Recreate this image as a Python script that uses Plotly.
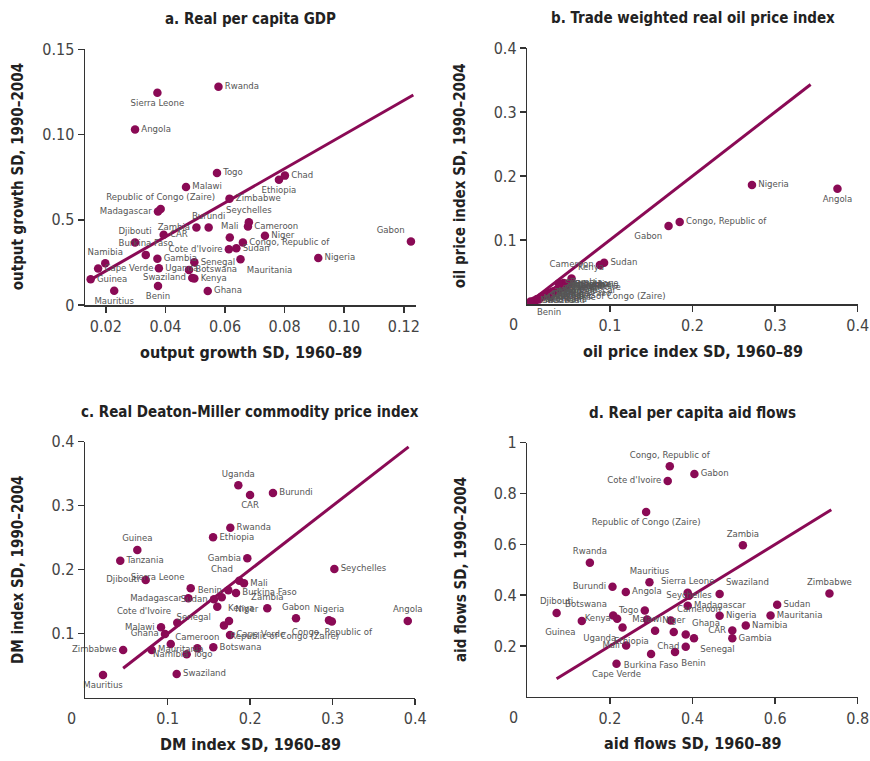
import plotly.graph_objects as go

# ---------------- data ----------------
# a. Real per capita GDP
a_country = ["Rwanda", "Sierra Leone", "Angola", "Togo", "Malawi", "Zimbabwe",
             "Republic of Congo (Zaire)", "Madagascar", "Zambia", "Burundi", "CAR",
             "Djibouti", "Burkina Faso", "Namibia", "Cape Verde", "Guinea", "Mauritius",
             "Gambia", "Uganda", "Benin", "Senegal", "Botswana", "Kenya", "Swaziland",
             "Ghana", "Mali", "Cote d'Ivoire", "Sudan", "Mauritania", "Seychelles",
             "Cameroon", "Congo, Republic of", "Chad", "Ethiopia", "Niger", "Nigeria", "Gabon"]
a_x = [0.0578, 0.0373, 0.0298, 0.0573, 0.0469, 0.0615, 0.0384, 0.0375, 0.0504, 0.0545, 0.0394,
       0.0298, 0.0334, 0.0198, 0.0174, 0.0149, 0.0228, 0.0373, 0.0378, 0.0375, 0.0497, 0.0479,
       0.0497, 0.0490, 0.0542, 0.0616, 0.0613, 0.0638, 0.0652, 0.0680, 0.0677, 0.0660, 0.0801,
       0.0781, 0.0734, 0.0913, 0.1224]
a_y = [0.1280, 0.1245, 0.1030, 0.0775, 0.0692, 0.0624, 0.0563, 0.0549, 0.0455, 0.0455, 0.0412,
       0.0367, 0.0294, 0.0245, 0.0214, 0.0151, 0.0084, 0.0271, 0.0216, 0.0112, 0.0251, 0.0206,
       0.0155, 0.0158, 0.0082, 0.0396, 0.0327, 0.0333, 0.0269, 0.0486, 0.0461, 0.0367, 0.0759,
       0.0735, 0.0406, 0.0276, 0.0373]
a_diag = [0.0149, 0.1232]
a_xticks = [0.02, 0.04, 0.06, 0.08, 0.10, 0.12]
a_xticklabels = ["0.02", "0.04", "0.06", "0.08", "0.10", "0.12"]
a_yticks = [0, 0.05, 0.10, 0.15]
a_yticklabels = ["0", "0.5", "0.10", "0.15"]

# b. Trade weighted real oil price index
b_country = ["Nigeria", "Angola", "Congo, Republic of", "Gabon", "Sudan", "Cameroon", "Kenya",
             "Benin", "Mauritius", "Swaziland", "Namibia", "Botswana", "Republic of Congo (Zaire)",
             "Cape Verde", "Gambia", "Seychelles", "Djibouti", "Guinea", "Togo", "Burkina Faso",
             "Mali", "Chad", "Niger", "Senegal", "Madagascar", "Ghana", "Cote d'Ivoire", "Malawi",
             "Uganda", "Burundi", "Rwanda", "Mauritania", "Ethiopia", "CAR", "Zambia",
             "Zimbabwe", "Sierra Leone"]
b_x = [0.272, 0.3755, 0.1845, 0.171, 0.093, 0.0879, 0.0536,
       0.004, 0.008, 0.010, 0.012, 0.014, 0.028,
       0.016, 0.018, 0.020, 0.022, 0.024, 0.026, 0.028,
       0.030, 0.032, 0.034, 0.035, 0.037, 0.038, 0.040, 0.042,
       0.043, 0.045, 0.046, 0.048, 0.050, 0.030, 0.044,
       0.040, 0.038]
b_y = [0.186, 0.180, 0.128, 0.122, 0.0645, 0.061, 0.040,
       0.004, 0.005, 0.006, 0.008, 0.007, 0.011,
       0.010, 0.012, 0.013, 0.015, 0.014, 0.017, 0.016,
       0.019, 0.020, 0.020, 0.022, 0.021, 0.024, 0.025, 0.026,
       0.028, 0.027, 0.030, 0.029, 0.031, 0.016, 0.033,
       0.030, 0.032]
b_diag = [0.010, 0.343]
b_ticks = [0.1, 0.2, 0.3, 0.4]
b_ticklabels = ["0.1", "0.2", "0.3", "0.4"]

# c. Real Deaton-Miller commodity price index
c_country = ["Uganda", "CAR", "Burundi", "Rwanda", "Ethiopia", "Guinea", "Tanzania", "Gambia",
             "Djibouti", "Chad", "Mali", "Sierra Leone", "Benin", "Burkina Faso", "Kenya",
             "Madagascar", "Sudan", "Senegal", "Zambia", "Seychelles", "Cote d'Ivoire", "Malawi",
             "Ghana", "Niger", "Republic of Congo (Zaire)", "Cape Verde", "Gabon", "Nigeria",
             "Congo, Republic of", "Angola", "Cameroon", "Zimbabwe", "Mauritania", "Togo",
             "Namibia", "Botswana", "Swaziland", "Mauritius"]
c_x = [0.1856, 0.1998, 0.2276, 0.1759, 0.1550, 0.0632, 0.0425, 0.1965,
       0.0733, 0.1868, 0.1925, 0.1279, 0.1735, 0.1828, 0.1655,
       0.1250, 0.1561, 0.1601, 0.2207, 0.3020, 0.1116, 0.0919,
       0.0967, 0.1743, 0.1682, 0.1755, 0.2555, 0.2955,
       0.2990, 0.3910, 0.1359, 0.0460, 0.0806, 0.1230,
       0.1037, 0.1553, 0.1109, 0.0216]
c_y = [0.3320, 0.3167, 0.3200, 0.2656, 0.2506, 0.2308, 0.2140, 0.2178,
       0.1840, 0.1828, 0.1787, 0.1710, 0.1680, 0.1635, 0.1569,
       0.1553, 0.1537, 0.1422, 0.1397, 0.2010, 0.1170, 0.1100,
       0.0995, 0.1200, 0.1130, 0.0980, 0.1240, 0.1210,
       0.1190, 0.1200, 0.0772, 0.0745, 0.0745, 0.0680,
       0.0839, 0.0787, 0.0370, 0.0355]
c_diag = [0.046, 0.392]
c_ticks = [0.1, 0.2, 0.3, 0.4]
c_ticklabels = ["0.1", "0.2", "0.3", "0.4"]

# d. Real per capita aid flows
d_country = ["Congo, Republic of", "Gabon", "Cote d'Ivoire", "Republic of Congo (Zaire)", "Rwanda",
             "Mauritius", "Burundi", "Angola", "Sierra Leone", "Swaziland", "Seychelles",
             "Madagascar", "Nigeria", "Djibouti", "Guinea", "Botswana", "Kenya", "Togo", "Malawi",
             "Cameroon", "Uganda", "Ethiopia", "Niger", "Ghana", "Senegal", "Chad", "Mali",
             "Benin", "Burkina Faso", "Cape Verde", "CAR", "Gambia", "Zambia", "Zimbabwe",
             "Sudan", "Mauritania", "Namibia"]
d_x = [0.345, 0.4046, 0.340, 0.2877, 0.1515,
       0.2958, 0.2063, 0.2385, 0.3884, 0.4657, 0.3916,
       0.3884, 0.4657, 0.0710, 0.1320, 0.2080, 0.2176, 0.2845, 0.2900,
       0.3473, 0.2306, 0.3094, 0.3546, 0.3836, 0.4036, 0.3836, 0.2393,
       0.3577, 0.2997, 0.2160, 0.4964, 0.4964, 0.5220, 0.7316,
       0.6050, 0.5890, 0.5290]
d_y = [0.907, 0.877, 0.849, 0.727, 0.528,
       0.451, 0.433, 0.412, 0.409, 0.405, 0.398,
       0.358, 0.319, 0.330, 0.298, 0.320, 0.307, 0.340, 0.304,
       0.300, 0.273, 0.260, 0.255, 0.2455, 0.230, 0.197, 0.2023,
       0.176, 0.168, 0.130, 0.261, 0.230, 0.596, 0.4067,
       0.362, 0.320, 0.281]
d_diag = [0.071, 0.736]
d_xticks = [0.2, 0.4, 0.6, 0.8]
d_xticklabels = ["0.2", "0.4", "0.6", "0.8"]
d_yticks = [0.2, 0.4, 0.6, 0.8, 1.0]
d_yticklabels = ["0.2", "0.4", "0.6", "0.8", "1"]

# ---------------- label placement (style) ----------------
MR, ML, TC, BC, TL, TR, BL, BR, MC = ("middle right", "middle left", "top center", "bottom center",
                                      "top left", "top right", "bottom left", "bottom right",
                                      "middle center")
a_pos = {"Rwanda": MR, "Sierra Leone": BC, "Angola": MR, "Togo": MR, "Malawi": MR, "Zimbabwe": MR,
         "Republic of Congo (Zaire)": TC, "Madagascar": ML, "Zambia": ML, "Burundi": TC, "CAR": MR,
         "Djibouti": TC, "Burkina Faso": TC, "Namibia": TC, "Cape Verde": MR, "Guinea": MR,
         "Mauritius": BC, "Gambia": MR, "Uganda": MR, "Benin": BC, "Senegal": MR, "Botswana": MR,
         "Kenya": MR, "Swaziland": ML, "Ghana": MR, "Mali": TC, "Cote d'Ivoire": ML, "Sudan": MR,
         "Mauritania": BR, "Seychelles": TC, "Cameroon": MR, "Congo, Republic of": MR, "Chad": MR,
         "Ethiopia": BC, "Niger": MR, "Nigeria": MR, "Gabon": TL}
b_pos = {"Angola": BC, "Gabon": BL, "Cameroon": ML, "Kenya": TR, "Benin": BR}
c_pos = {"Uganda": TC, "CAR": BC, "Burundi": MR, "Rwanda": MR, "Ethiopia": MR, "Guinea": TC,
         "Tanzania": MR, "Gambia": ML, "Djibouti": ML, "Chad": TL, "Mali": MR, "Sierra Leone": TL,
         "Benin": ML, "Burkina Faso": MR, "Kenya": BR, "Madagascar": ML, "Sudan": ML, "Senegal": BL,
         "Zambia": TC, "Seychelles": MR, "Cote d'Ivoire": TL, "Malawi": ML, "Ghana": ML,
         "Niger": TR, "Republic of Congo (Zaire)": BR, "Cape Verde": MR, "Gabon": TC, "Nigeria": TC,
         "Congo, Republic of": BC, "Angola": TC, "Cameroon": TC, "Zimbabwe": ML, "Mauritania": MR,
         "Togo": MR, "Namibia": BC, "Botswana": MR, "Swaziland": MR, "Mauritius": BC}
d_pos = {"Congo, Republic of": TC, "Gabon": MR, "Cote d'Ivoire": ML, "Republic of Congo (Zaire)": BC,
         "Rwanda": TC, "Mauritius": TC, "Burundi": ML, "Angola": MR, "Sierra Leone": TC,
         "Swaziland": TR, "Seychelles": MC, "Madagascar": MR, "Nigeria": MR, "Djibouti": TC,
         "Guinea": BL, "Botswana": TL, "Kenya": ML, "Togo": ML, "Malawi": MC, "Cameroon": TR,
         "Uganda": BL, "Ethiopia": BL, "Niger": TC, "Ghana": TR, "Senegal": BR, "Chad": ML,
         "Mali": ML, "Benin": BR, "Burkina Faso": BC, "Cape Verde": BC, "CAR": ML, "Gambia": MR,
         "Zambia": TC, "Zimbabwe": TC, "Sudan": MR, "Mauritania": MR, "Namibia": MR}

# ---------------- figure ----------------
W, H = 870, 761
FONT = "DejaVu Sans Condensed, Liberation Sans Narrow, Arial Narrow, sans-serif"
PURPLE = "#8a0a55"
TICK_COL = "#444444"
LABEL_COL = "#555555"


def px_x(p):
    return p / W


def px_y(p):
    return 1 - p / H


panels = [
    dict(sfx="", x=a_x, y=a_y, names=a_country, pos=a_pos, diag=a_diag,
         xdom=(85, 416), ydom=(305, 49.3), xr=[0.013, 0.1241], yr=[0, 0.15],
         xt=a_xticks, xtt=a_xticklabels, yt=a_yticks, ytt=a_yticklabels, origin=False,
         title="a. Real per capita GDP", xtitle="output growth SD, 1960–89",
         ytitle="output growth SD, 1990–2004"),
    dict(sfx="2", x=b_x, y=b_y, names=b_country, pos=b_pos, diag=b_diag,
         xdom=(527.3, 857.7), ydom=(304, 48), xr=[0, 0.4], yr=[0, 0.4],
         xt=b_ticks, xtt=b_ticklabels, yt=b_ticks, ytt=b_ticklabels, origin=True,
         title="b. Trade weighted real oil price index", xtitle="oil price index SD, 1960–89",
         ytitle="oil price index SD, 1990–2004"),
    dict(sfx="3", x=c_x, y=c_y, names=c_country, pos=c_pos, diag=c_diag,
         xdom=(85.2, 415.2), ydom=(697.7, 441.7), xr=[0, 0.4], yr=[0, 0.4],
         xt=c_ticks, xtt=c_ticklabels, yt=c_ticks, ytt=c_ticklabels, origin=True,
         title="c. Real Deaton-Miller commodity price index", xtitle="DM index SD, 1960–89",
         ytitle="DM index SD, 1990–2004"),
    dict(sfx="4", x=d_x, y=d_y, names=d_country, pos=d_pos, diag=d_diag,
         xdom=(527.3, 857.7), ydom=(696.8, 442.7), xr=[0, 0.8], yr=[0, 1.0],
         xt=d_xticks, xtt=d_xticklabels, yt=d_yticks, ytt=d_yticklabels, origin=True,
         title="d. Real per capita aid flows", xtitle="aid flows SD, 1960–89",
         ytitle="aid flows SD, 1990–2004"),
]

fig = go.Figure()
layout = dict(width=W, height=H, margin=dict(l=0, r=0, t=0, b=0, pad=0, autoexpand=False),
              paper_bgcolor="white", plot_bgcolor="white", showlegend=False,
              font=dict(family=FONT, color=TICK_COL))
annotations = []

for p in panels:
    xa = "x" + p["sfx"]
    ya = "y" + p["sfx"]
    fig.add_trace(go.Scatter(x=p["diag"], y=p["diag"], mode="lines", xaxis=xa, yaxis=ya,
                             line=dict(color=PURPLE, width=3), hoverinfo="skip"))
    positions = [p["pos"].get(n, MR) for n in p["names"]]
    fig.add_trace(go.Scatter(x=p["x"], y=p["y"], mode="markers+text", xaxis=xa, yaxis=ya,
                             text=p["names"], textposition=positions,
                             textfont=dict(family=FONT, size=9.5, color=LABEL_COL),
                             marker=dict(color=PURPLE, size=8.5), cliponaxis=False))
    axis_common = dict(showgrid=False, zeroline=False, showline=True, linecolor="#333333",
                       linewidth=1.5, ticks="outside", ticklen=6, tickwidth=1.5,
                       tickcolor="#333333", automargin=False,
                       tickfont=dict(family=FONT, size=16, color=TICK_COL))
    layout["xaxis" + p["sfx"]] = dict(domain=[px_x(p["xdom"][0]), px_x(p["xdom"][1])],
                                      range=p["xr"], anchor=ya, tickmode="array",
                                      tickvals=p["xt"], ticktext=p["xtt"], **axis_common)
    layout["yaxis" + p["sfx"]] = dict(domain=[px_y(p["ydom"][0]), px_y(p["ydom"][1])],
                                      range=p["yr"], anchor=xa, tickmode="array",
                                      tickvals=p["yt"], ticktext=p["ytt"], **axis_common)
    cx = (p["xdom"][0] + p["xdom"][1]) / 2
    cy = (p["ydom"][0] + p["ydom"][1]) / 2
    annotations.append(dict(xref="paper", yref="paper", x=px_x(cx),
                            y=px_y(p["ydom"][1] - 30), text="<b>%s</b>" % p["title"],
                            showarrow=False, font=dict(family=FONT, size=15, color="#222222"),
                            xanchor="center", yanchor="middle"))
    annotations.append(dict(xref="paper", yref="paper", x=px_x(cx),
                            y=px_y(p["ydom"][0] + 47), text="<b>%s</b>" % p["xtitle"],
                            showarrow=False, font=dict(family=FONT, size=16, color="#222222"),
                            xanchor="center", yanchor="middle"))
    annotations.append(dict(xref="paper", yref="paper", x=px_x(p["xdom"][0] - 67),
                            y=px_y(cy), text="<b>%s</b>" % p["ytitle"], textangle=-90,
                            showarrow=False, font=dict(family=FONT, size=15, color="#222222"),
                            xanchor="center", yanchor="middle"))
    if p["origin"]:
        annotations.append(dict(xref=xa, yref=ya, x=0, y=0, text="0", showarrow=False,
                                xanchor="center", yanchor="top", xshift=-14, yshift=-9,
                                font=dict(family=FONT, size=16, color=TICK_COL)))

layout["annotations"] = annotations
fig.update_layout(**layout)
fig.write_html("out.html", config={"displayModeBar": False, "staticPlot": True},
               post_script="document.body.style.margin='0px';document.body.style.overflow='hidden';")
